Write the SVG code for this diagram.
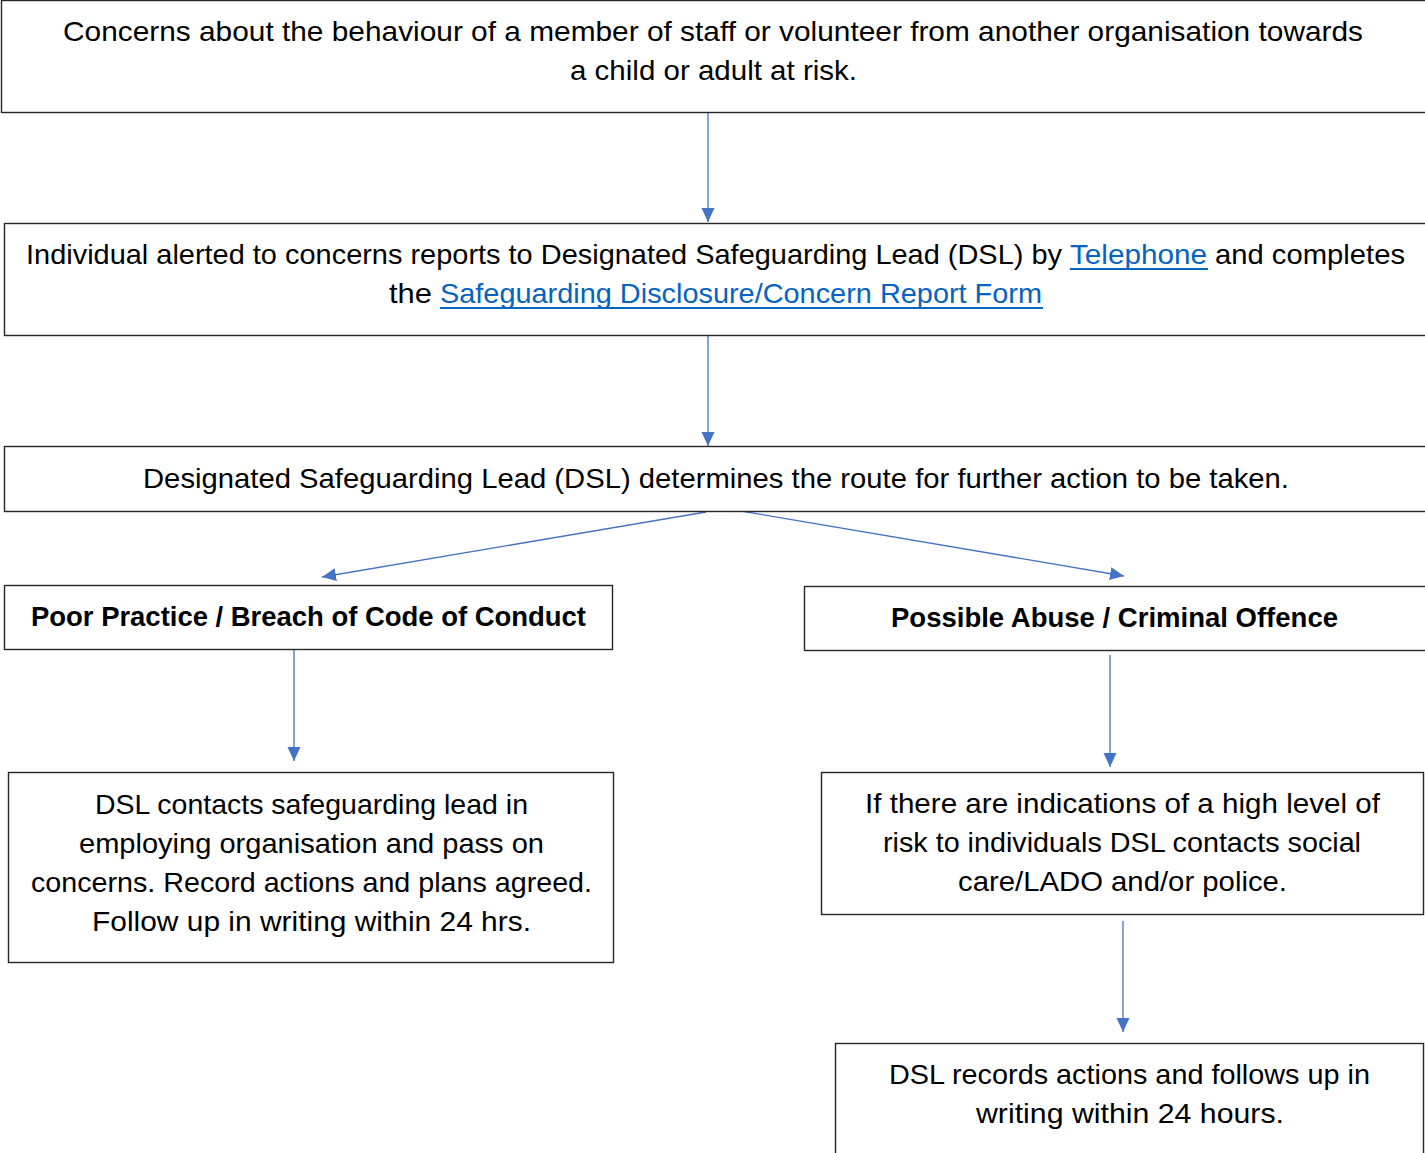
<svg xmlns="http://www.w3.org/2000/svg" width="1425" height="1153" viewBox="0 0 1425 1153">
<defs>
<style>
.box{fill:#ffffff;stroke:#262626;stroke-width:1.4}
.t{font-family:"Liberation Sans",Arial,sans-serif;font-size:28px;fill:#000000}
.b{font-family:"Liberation Sans",Arial,sans-serif;font-size:28px;font-weight:bold;fill:#000000}
.lk{font-family:"Liberation Sans",Arial,sans-serif;font-size:28px;fill:#0563C1}
.ul{stroke:#0563C1;stroke-width:1.8}
.c{stroke:#4472C4;stroke-width:1.3;fill:none;marker-end:url(#ah)}
</style>
<marker id="ah" markerUnits="userSpaceOnUse" markerWidth="14" markerHeight="14" refX="14" refY="7" orient="auto">
<path d="M0,0.5 L14,7 L0,13.5 z" fill="#4472C4"/>
</marker>
</defs>
<rect width="1425" height="1153" fill="#ffffff"/>

<g id="connectors">
<line class="c" x1="708" y1="113" x2="708" y2="222"/>
<line class="c" x1="708" y1="336" x2="708" y2="446"/>
<line class="c" x1="706" y1="512" x2="322" y2="577"/>
<line class="c" x1="741" y1="511" x2="1124" y2="576"/>
<line class="c" x1="294" y1="650" x2="294" y2="761"/>
<line class="c" x1="1110" y1="655" x2="1110" y2="767"/>
<line class="c" x1="1123" y1="921" x2="1123" y2="1032"/>
</g>

<g id="n1">
<rect class="box" x="1.5" y="0.5" width="1430" height="112"/>
<text class="t" x="63" y="41" textLength="1300" lengthAdjust="spacingAndGlyphs">Concerns about the behaviour of a member of staff or volunteer from another organisation towards</text>
<text class="t" x="570" y="80" textLength="287" lengthAdjust="spacingAndGlyphs">a child or adult at risk.</text>
</g>

<g id="n2">
<rect class="box" x="4.5" y="223.5" width="1430" height="112"/>
<text class="t" x="26" y="264" textLength="1036" lengthAdjust="spacingAndGlyphs">Individual alerted to concerns reports to Designated Safeguarding Lead (DSL) by</text>
<text class="lk" x="1070" y="264" textLength="137" lengthAdjust="spacingAndGlyphs">Telephone</text>
<line class="ul" x1="1070" y1="269" x2="1208" y2="269"/>
<text class="t" x="1215" y="264" textLength="190" lengthAdjust="spacingAndGlyphs">and completes</text>
<text class="t" x="389" y="303" textLength="43" lengthAdjust="spacingAndGlyphs">the</text>
<text class="lk" x="440" y="303" textLength="602" lengthAdjust="spacingAndGlyphs">Safeguarding Disclosure/Concern Report Form</text>
<line class="ul" x1="440" y1="308" x2="1043" y2="308"/>
</g>

<g id="n3">
<rect class="box" x="4.5" y="446.5" width="1430" height="65"/>
<text class="t" x="143" y="488" textLength="1146" lengthAdjust="spacingAndGlyphs">Designated Safeguarding Lead (DSL) determines the route for further action to be taken.</text>
</g>

<g id="n4">
<rect class="box" x="4.5" y="585.5" width="608" height="64"/>
<text class="b" x="31" y="626" textLength="555" lengthAdjust="spacingAndGlyphs">Poor Practice / Breach of Code of Conduct</text>
</g>

<g id="n5">
<rect class="box" x="804.5" y="586.5" width="630" height="64"/>
<text class="b" x="891" y="627" textLength="447" lengthAdjust="spacingAndGlyphs">Possible Abuse / Criminal Offence</text>
</g>

<g id="n6">
<rect class="box" x="8.5" y="772.5" width="605" height="190"/>
<text class="t" x="95" y="814" textLength="433" lengthAdjust="spacingAndGlyphs">DSL contacts safeguarding lead in</text>
<text class="t" x="79" y="853" textLength="465" lengthAdjust="spacingAndGlyphs">employing organisation and pass on</text>
<text class="t" x="31" y="892" textLength="561" lengthAdjust="spacingAndGlyphs">concerns. Record actions and plans agreed.</text>
<text class="t" x="92" y="931" textLength="439" lengthAdjust="spacingAndGlyphs">Follow up in writing within 24 hrs.</text>
</g>

<g id="n7">
<rect class="box" x="821.5" y="772.5" width="602" height="142"/>
<text class="t" x="865" y="813" textLength="515" lengthAdjust="spacingAndGlyphs">If there are indications of a high level of</text>
<text class="t" x="883" y="852" textLength="478" lengthAdjust="spacingAndGlyphs">risk to individuals DSL contacts social</text>
<text class="t" x="958" y="891" textLength="329" lengthAdjust="spacingAndGlyphs">care/LADO and/or police.</text>
</g>

<g id="n8">
<rect class="box" x="835.5" y="1043.5" width="588" height="120"/>
<text class="t" x="889" y="1084" textLength="481" lengthAdjust="spacingAndGlyphs">DSL records actions and follows up in</text>
<text class="t" x="976" y="1123" textLength="308" lengthAdjust="spacingAndGlyphs">writing within 24 hours.</text>
</g>
</svg>
